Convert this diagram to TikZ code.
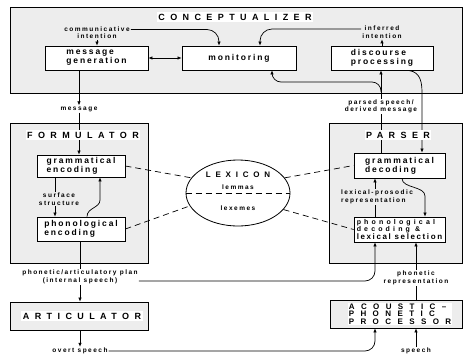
\documentclass[tikz,border=0pt]{standalone}
\usepackage{fontspec}
\setmainfont{Liberation Sans}
\newfontfamily\hfont[LetterSpace=60]{Liberation Sans}
\newfontfamily\bfont[LetterSpace=22]{Liberation Sans}
\newfontfamily\lfont[LetterSpace=23]{Liberation Sans}
\newfontfamily\pfont[LetterSpace=80]{Liberation Sans}
\newfontfamily\dfont[LetterSpace=45]{Liberation Sans}
\newfontfamily\sfont[LetterSpace=20]{Liberation Sans}
\usetikzlibrary{arrows.meta,shapes.geometric}

\begin{document}
\begin{tikzpicture}[x=1pt,y=-1pt,
 big/.style={draw,line width=0.8pt,fill=gray!14,inner sep=0pt},
 inbox/.style={draw,line width=0.8pt,fill=white,inner sep=0pt,align=left,font=\bfont\bfseries\fontsize{8.5}{9}\selectfont},
 head/.style={fill=white,inner sep=1.5pt,font=\hfont\bfseries\fontsize{9}{10}\selectfont},
 lab/.style={inner sep=1pt,align=center,font=\lfont\bfseries\fontsize{6.5}{7.5}\selectfont},
 ln/.style={line width=0.7pt},
 arr/.style={ln,-{Latex[length=4pt,width=3.5pt]}},
 darr/.style={ln,{Latex[length=4pt,width=3.5pt]}-{Latex[length=4pt,width=3.5pt]}},
 dsh/.style={line width=0.7pt,dash pattern=on 6pt off 4pt}]

\useasboundingbox (0,0) rectangle (464,357);
\fill[white] (0,0) rectangle (464,357);

% big boxes
\node[big,minimum width=452pt,minimum height=86pt] (conc) at (236,50) {};
\node[big,minimum width=138pt,minimum height=140pt] (form) at (79,193) {};
\node[big,minimum width=133pt,minimum height=140pt] (pars) at (395.5,193) {};
\node[big,minimum width=138pt,minimum height=28pt] (art) at (79,316) {};
\node[big,minimum width=132pt,minimum height=28pt] (app) at (396,314) {};

% inner boxes
\node[inbox,minimum width=103pt,minimum height=24pt] (mg) at (96.5,58) {message\\generation};
\node[inbox,minimum width=114pt,minimum height=24pt] (mon) at (239,58) {monitoring};
\node[inbox,minimum width=102pt,minimum height=24pt] (dp) at (382,58) {discourse\\processing};
\node[inbox,minimum width=88pt,minimum height=22pt] (ge) at (81,166) {grammatical\\encoding};
\node[inbox,minimum width=88pt,minimum height=24pt] (pe) at (81,229) {phonological\\encoding};
\node[inbox,minimum width=91pt,minimum height=25pt] (gd) at (399.5,165.5) {grammatical\\decoding};
\node[inbox,minimum width=91pt,minimum height=25pt,font=\dfont\bfseries\fontsize{7}{7}\selectfont] (pd) at (399.5,229.5) {phonological\\decoding \&\\{\sfont\bfseries\fontsize{8}{7}\selectfont lexical selection}};

% labels
\node[lab] (ci) at (97,32.5) {communicative\\intention};
\node[lab] (ii) at (382,32) {inferred\\intention};
\node[lab] (msg) at (79,109) {message};
\node[lab] (psd) at (381,106.5) {parsed speech/\\derived message};
\node[lab] (pap) at (80,277) {phonetic/articulatory plan\\(internal speech)};
\node[lab] (pr) at (416,278) {phonetic\\representation};
\node[lab] (os) at (80,351) {overt speech};
\node[lab] (sp) at (416,351) {speech};

% conceptualizer connectors
\draw[arr] (ci.south) -- (ci.south |- mg.north);
\draw[arr,rounded corners=12] ([yshift=3pt]ci.east) -| ([xshift=-20pt]mon.north);
\draw[darr] (mg.east) -- (mon.west);
\draw[arr] (dp.north) -- (ii.south);
\draw[arr,rounded corners=12] ([yshift=3pt]ii.west) -| ([xshift=21pt]mon.north);

\draw[ln] (gd.north -| psd) -- (psd.south);
\draw[arr] (psd.north) -- (psd.north |- dp.south);
\coordinate (bq) at (381,92);
\coordinate (bh) at (272,82);
\draw[arr,rounded corners=9] (bq) |- (bh) -- (bh |- mon.south);
\coordinate (dq) at (422,92);
\draw[arr] ([xshift=23pt]dp.south) .. controls (418,70) and (422,78) .. (dq) -- (dq |- gd.north);

% formulator
\draw[arr] (mg.south -| msg) -- (msg.north);
\draw[arr] (msg.south) -- (msg.south |- ge.north);
\coordinate (sx) at (55,0);
\draw[arr] (ge.south -| sx) -- (pe.north -| sx);
\node[lab,fill=gray!14] (ss) at (59,199) {surface\\structure};
\coordinate (fq) at (100,200);
\draw[arr] ([xshift=6pt]pe.north) .. controls ([xshift=6pt,yshift=9pt]pe.north) and ([yshift=-8pt]fq) .. (fq) -- (fq |- ge.south);

\draw[ln] (pe.south -| pap) -- (pap.north);
\draw[arr] (pap.south) -- (pap.south |- art.north);
\draw[arr,rounded corners=10] ([yshift=-4pt]pap.east) -| ([xshift=-24.5pt]pd.south);
\draw[arr] (art.south -| os) -- (os.north);
\draw[arr,rounded corners=10] (os.east) -| ([xshift=-21pt]app.south);

% parser
\draw[ln] (app.north -| pr) -- (pr.south);
\draw[arr] (pr.north) -- (pr.north |- pd.south);
\draw[arr] (sp.north) -- (sp.north |- app.south);
\coordinate (lx) at (375,0);
\draw[arr] (pd.north -| lx) -- (gd.south -| lx);
\node[lab,fill=gray!14,align=left] (lpr) at (377,197) {lexical-prosodic\\representation};
\coordinate (gq) at (425,196);
\draw[arr] ([xshift=2.5pt]gd.south) .. controls ([xshift=2.5pt,yshift=-10pt]gd.south) and ([yshift=10pt]gq) .. (gq) -- (gq |- pd.north);

% lexicon
\node[draw,ellipse,line width=0.8pt,fill=white,minimum width=104pt,minimum height=66pt,inner sep=0pt] (lex) at (238,193) {};
\draw[dsh] (lex.west) -- (lex.east);
\node[inner sep=1pt,font=\hfont\bfseries\fontsize{8}{9}\selectfont] (lexh) at (238,175) {LEXICON};
\node[lab] (lem) at (238,187) {lemmas};
\node[lab] (lxm) at (238,208) {lexemes};
\draw[dsh] (ge.east) -- (lex.162);
\draw[dsh] (pe.east) -- (lex.195);
\draw[dsh] (lex.18) -- (gd.west);
\draw[dsh] (lex.340) -- (pd.west);

% headings
\node[head] (ch) at (235,17) {CONCEPTUALIZER};
\node[head] (fh) at (83,135) {FORMULATOR};
\node[head] (ph) at (398,135) {PARSER};
\node[head] (ah) at (82,316) {ARTICULATOR};
\node[head,align=left,inner sep=1pt,font=\pfont\bfseries\fontsize{8}{7.5}\selectfont] (aph) at (400,314) {ACOUSTIC–\\PHONETIC\\PROCESSOR};
\end{tikzpicture}
\end{document}
